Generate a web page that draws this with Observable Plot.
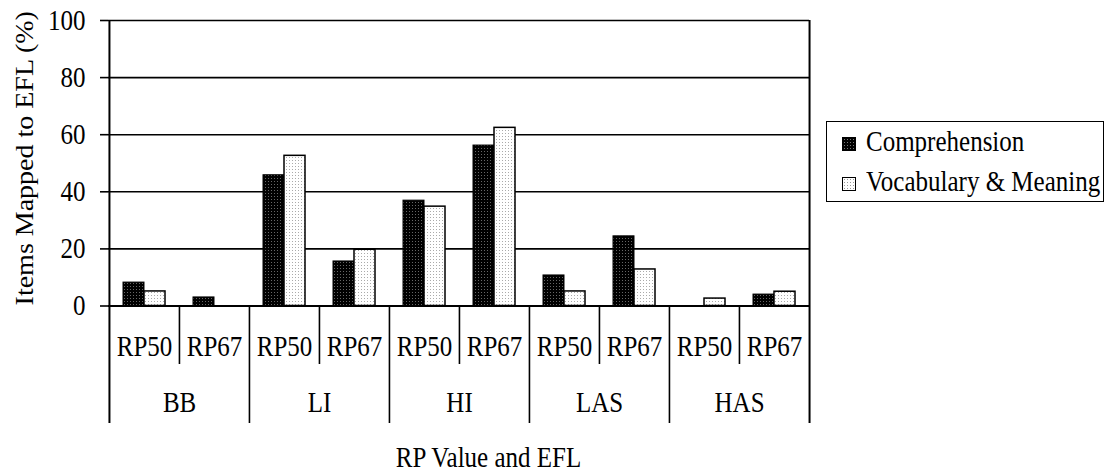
<!DOCTYPE html>
<html><head><meta charset="utf-8">
<script src="https://cdn.jsdelivr.net/npm/d3@7"></script>
<script src="https://cdn.jsdelivr.net/npm/@observablehq/plot@0.6"></script>
<style>
body{margin:0;background:#fff;}
#wrap{position:relative;width:1115px;height:474px;font-family:"Liberation Serif","Times New Roman",serif;}
#legend{position:absolute;left:826px;top:121px;width:278px;height:81px;border:1.6px solid #000;box-sizing:border-box;font-size:25px;color:#000;background:#fff;}
.item{position:absolute;left:15px;height:30px;line-height:30px;white-space:nowrap;}
.item .t{display:inline-block;transform:scaleY(1.15);transform-origin:50% 60%;}
.sw{display:inline-block;width:14px;height:14px;border:1px solid #000;box-sizing:border-box;margin-right:10px;vertical-align:-1px;}
.sw.c{background:#000;background-image:radial-gradient(#777 0.6px,transparent 0.8px);background-size:3px 3px;}
.sw.v{background:#fff;background-image:radial-gradient(#999 0.6px,transparent 0.8px);background-size:3px 3px;}
</style></head><body><div id="wrap"><div id="legend"></div></div>
<script>
const groups = ["BB", "LI", "HI", "LAS", "HAS"];
const rpValues = ["RP50", "RP67"];
const series = ["Comprehension", "Vocabulary & Meaning"];
const comprehension = [8.2, 3.0, 45.8, 15.6, 36.9, 56.2, 10.7, 24.4, 0, 4.0];
const vocabulary = [5.1, 0, 52.6, 19.7, 34.8, 62.4, 5.1, 12.8, 2.6, 5.0];
const yTicks = [0, 20, 40, 60, 80, 100];
const xTitle = "RP Value and EFL";
const yTitle = "Items Mapped to EFL (%)";

const slots = groups.flatMap(g => rpValues.map(rp => ({group: g, rp, key: `${g} ${rp}`})));
const keys = slots.map(s => s.key);
const compRows = slots.map((s, i) => ({...s, series: series[0], value: comprehension[i]}));
const vocRows = slots.map((s, i) => ({...s, series: series[1], value: vocabulary[i]}));

const ext = 117.5;   // table extends below baseline
const frameH = 285.5;

const svg = Plot.plot({
  width: 1115, height: 474,
  marginLeft: 108, marginRight: 306, marginTop: 20, marginBottom: 168.5,
  style: {fontFamily: "Liberation Serif, Times New Roman, serif", fontSize: "25px", color: "#000", background: "transparent", overflow: "visible"},
  x: {domain: keys, padding: 0, axis: null},
  y: {domain: [0, 100], axis: null},
  marks: [
    Plot.ruleY(yTicks, {stroke: "#000", strokeWidth: 1.6}),
    Plot.barY(compRows, {x: "key", y: "value", fill: "url(#pComp)", stroke: "#000", strokeWidth: 1, insetLeft: 14, insetRight: 35}),
    Plot.barY(vocRows, {x: "key", y: "value", fill: "url(#pVoc)", stroke: "#000", strokeWidth: 1.5, insetLeft: 35, insetRight: 14}),
    Plot.ruleY([0], {stroke: "#000", strokeWidth: 2}),
    Plot.ruleX([keys[0]], {x: d => d, dx: -35.05, insetBottom: -ext, stroke: "#000", strokeWidth: 2}),
    Plot.ruleX([keys[keys.length - 1]], {x: d => d, dx: 35.05, insetBottom: -ext, stroke: "#000", strokeWidth: 2}),
    Plot.ruleX(slots.filter((s, i) => s.rp === rpValues[0] && i > 0), {x: "key", dx: -35.05, insetTop: frameH, insetBottom: -ext, stroke: "#000", strokeWidth: 1.6}),
    Plot.ruleX(slots.filter(s => s.rp === rpValues[1]), {x: "key", dx: -35.05, insetTop: frameH, insetBottom: -58.5, stroke: "#000", strokeWidth: 1.6}),
    Plot.axisY(yTicks, {tickSize: 8, tickPadding: 15, stroke: "#000", strokeWidth: 1.6, label: null, tickFormat: d => d}),
    Plot.text(slots, {x: "key", text: "rp", frameAnchor: "bottom", dy: 49.5, fill: "#000"}),
    Plot.text(slots.filter(s => s.rp === rpValues[0]), {x: "key", text: "group", frameAnchor: "bottom", dx: 35.05, dy: 106, fill: "#000"}),
    Plot.text([xTitle], {frameAnchor: "bottom", dx: 29.5, dy: 161, fill: "#000"}),
    Plot.text([yTitle], {frameAnchor: "left", textAnchor: "middle", rotate: -90, dx: -84, dy: -5, fill: "#000"})
  ]
});

const defs = d3.select(svg).insert("defs", ":first-child");
const pc = defs.append("pattern").attr("id", "pComp").attr("patternUnits", "userSpaceOnUse").attr("width", 3).attr("height", 3);
pc.append("rect").attr("width", 3).attr("height", 3).attr("fill", "#000");
pc.append("rect").attr("x", 1).attr("y", 1).attr("width", 1).attr("height", 1).attr("fill", "#666");
const pv = defs.append("pattern").attr("id", "pVoc").attr("patternUnits", "userSpaceOnUse").attr("width", 3).attr("height", 3);
pv.append("rect").attr("width", 3).attr("height", 3).attr("fill", "#fff");
pv.append("rect").attr("x", 1).attr("y", 1).attr("width", 1).attr("height", 1).attr("fill", "#aaa");

// Stretch glyphs like the reference (tall Times type)
d3.select(svg).selectAll("text").each(function() {
  const t = this.getAttribute("transform");
  if (t == null) return;
  this.setAttribute("transform", t + (t.includes("rotate") ? " scale(1.12,1)" : " scale(1,1.15)"));
});

document.getElementById("wrap").prepend(svg);

const legend = document.getElementById("legend");
series.forEach((name, i) => {
  const it = document.createElement("div");
  it.className = "item";
  it.style.top = (i === 0 ? 5 : 45) + "px";
  const sw = document.createElement("span");
  sw.className = "sw " + (i === 0 ? "c" : "v");
  it.appendChild(sw);
  const tx = document.createElement("span");
  tx.className = "t";
  tx.textContent = name;
  it.appendChild(tx);
  legend.appendChild(it);
});
</script>
</body></html>
